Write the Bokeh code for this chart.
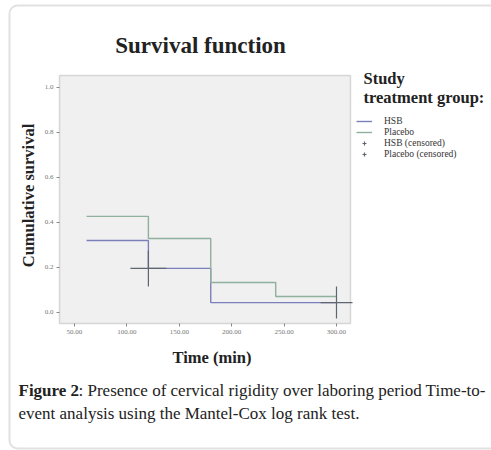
from math import pi
from bokeh.plotting import figure
from bokeh.models import (Range1d, Label, BoxAnnotation, Legend, LegendItem,
                          FixedTicker, NumeralTickFormatter, LinearAxis)
from bokeh.embed import file_html
from bokeh.resources import INLINE

# ---- data ----
hsb_time = [61.5, 120.5, 180.0, 300.0]
hsb_surv = [0.320, 0.196, 0.044, 0.044]
placebo_time = [61.5, 120.5, 180.0, 242.0, 300.0]
placebo_surv = [0.427, 0.329, 0.133, 0.071, 0.071]
hsb_cens_time = [120.5]
hsb_cens_surv = [0.196]
placebo_cens_time = [300.0]
placebo_cens_surv = [0.044]
x_ticks = [50, 100, 150, 200, 250, 300]
y_ticks = [0.0, 0.2, 0.4, 0.6, 0.8, 1.0]
legend_labels = ["HSB", "Placebo", "HSB (censored)", "Placebo (censored)"]

# ---- layout ----
W, H = 491, 450
X0, X1 = 35.69, 313.36       # plot-area data limits (time)
Y0, Y1 = -0.0489, 1.0533     # plot-area data limits (survival)
PX_PER_X = 1.048
PX_PER_Y = 225.0
FL, FB = 59, 323             # plot-area left / bottom pixel
xs = X0 - FL / PX_PER_X
ys = Y0 - (H - FB) / PX_PER_Y

p = figure(width=W, height=H, output_backend="svg", toolbar_location=None,
           x_range=Range1d(xs, xs + W / PX_PER_X),
           y_range=Range1d(ys, ys + H / PX_PER_Y),
           x_axis_location=None, y_axis_location=None,
           min_border=0)
p.background_fill_color = "white"
p.border_fill_color = "white"
p.outline_line_color = None
p.grid.visible = False

# plot area panel
p.add_layout(BoxAnnotation(left=X0, right=X1, bottom=Y0, top=Y1,
                           fill_color="#f0f0f0", fill_alpha=1,
                           line_color="#8a8a8a", line_width=1.5,
                           level="underlay"))

xaxis = LinearAxis(fixed_location=Y0, ticker=FixedTicker(ticks=x_ticks),
                   formatter=NumeralTickFormatter(format="0.00"))
yaxis = LinearAxis(fixed_location=X0, ticker=FixedTicker(ticks=y_ticks),
                   formatter=NumeralTickFormatter(format="0.0"))
for ax in (xaxis, yaxis):
    ax.axis_line_color = None
    ax.major_tick_in = 0
    ax.major_tick_out = 3
    ax.major_tick_line_color = "#888888"
    ax.minor_tick_line_color = None
    ax.major_label_text_font = "Liberation Serif"
    ax.major_label_text_font_size = "7px"
    ax.major_label_text_color = "#777777"
    ax.major_label_standoff = 3
p.add_layout(xaxis, "below")
p.add_layout(yaxis, "left")

BLUE = "#7b80bb"
GREEN = "#8fb09c"
CENS = "#5f6670"

r1 = p.step(hsb_time, hsb_surv, mode="after", line_color=BLUE, line_width=1.4)
r2 = p.step(placebo_time, placebo_surv, mode="after", line_color=GREEN, line_width=1.4)
r3 = p.scatter(hsb_cens_time, hsb_cens_surv, marker="cross", size=36,
               line_color=CENS, line_width=1.2)
r4 = p.scatter(placebo_cens_time, placebo_cens_surv, marker="cross", size=32,
               line_color=CENS, line_width=1.2)


def sx(X):
    return X


def sy(Y):
    return H - Y


def lab(text, X, Y, size, bold=False, align="left", angle=0, color="#222222",
        font="Liberation Serif"):
    p.add_layout(Label(x=sx(X), y=sy(Y), x_units="screen", y_units="screen",
                       text=text, text_font=font, text_font_size=f"{size}px",
                       text_font_style="bold" if bold else "normal",
                       text_align=align, text_baseline="middle",
                       angle=angle, text_color=color))


# outer frame
p.add_layout(BoxAnnotation(left=sx(9), right=sx(500), top=sy(5), bottom=sy(448),
                           left_units="screen", right_units="screen",
                           top_units="screen", bottom_units="screen",
                           fill_color=None, fill_alpha=0,
                           line_color="#9a9a9a", line_width=2,
                           border_radius=8))

lab("Survival function", 200, 45, 23, bold=True, align="center")
lab("Cumulative survival", 28, 195, 16.5, bold=True, align="center", angle=pi / 2)
lab("Time (min)", 211.5, 357, 16.5, bold=True, align="center")
lab("Study", 363, 78, 16.5, bold=True)
lab("treatment group:", 363, 97, 16.5, bold=True)

lab("Figure 2", 18, 390, 17, bold=True)
lab(": Presence of cervical rigidity over laboring period Time-to-", 78, 390, 17)
lab("event analysis using the Mantel-Cox log rank test.", 18, 413, 17)

legend = Legend(items=[LegendItem(label=legend_labels[0], renderers=[r1]),
                       LegendItem(label=legend_labels[1], renderers=[r2]),
                       LegendItem(label=legend_labels[2], renderers=[r3]),
                       LegendItem(label=legend_labels[3], renderers=[r4])],
                location=(sx(356), sy(159)),
                padding=0, margin=0, spacing=1,
                glyph_width=16, glyph_height=10, label_height=10,
                label_standoff=12, label_text_font="Liberation Serif",
                label_text_font_size="9.5px", label_text_color="#333333",
                background_fill_alpha=0, border_line_color=None)
p.add_layout(legend)

open("out.html", "w").write(file_html(p, INLINE))
